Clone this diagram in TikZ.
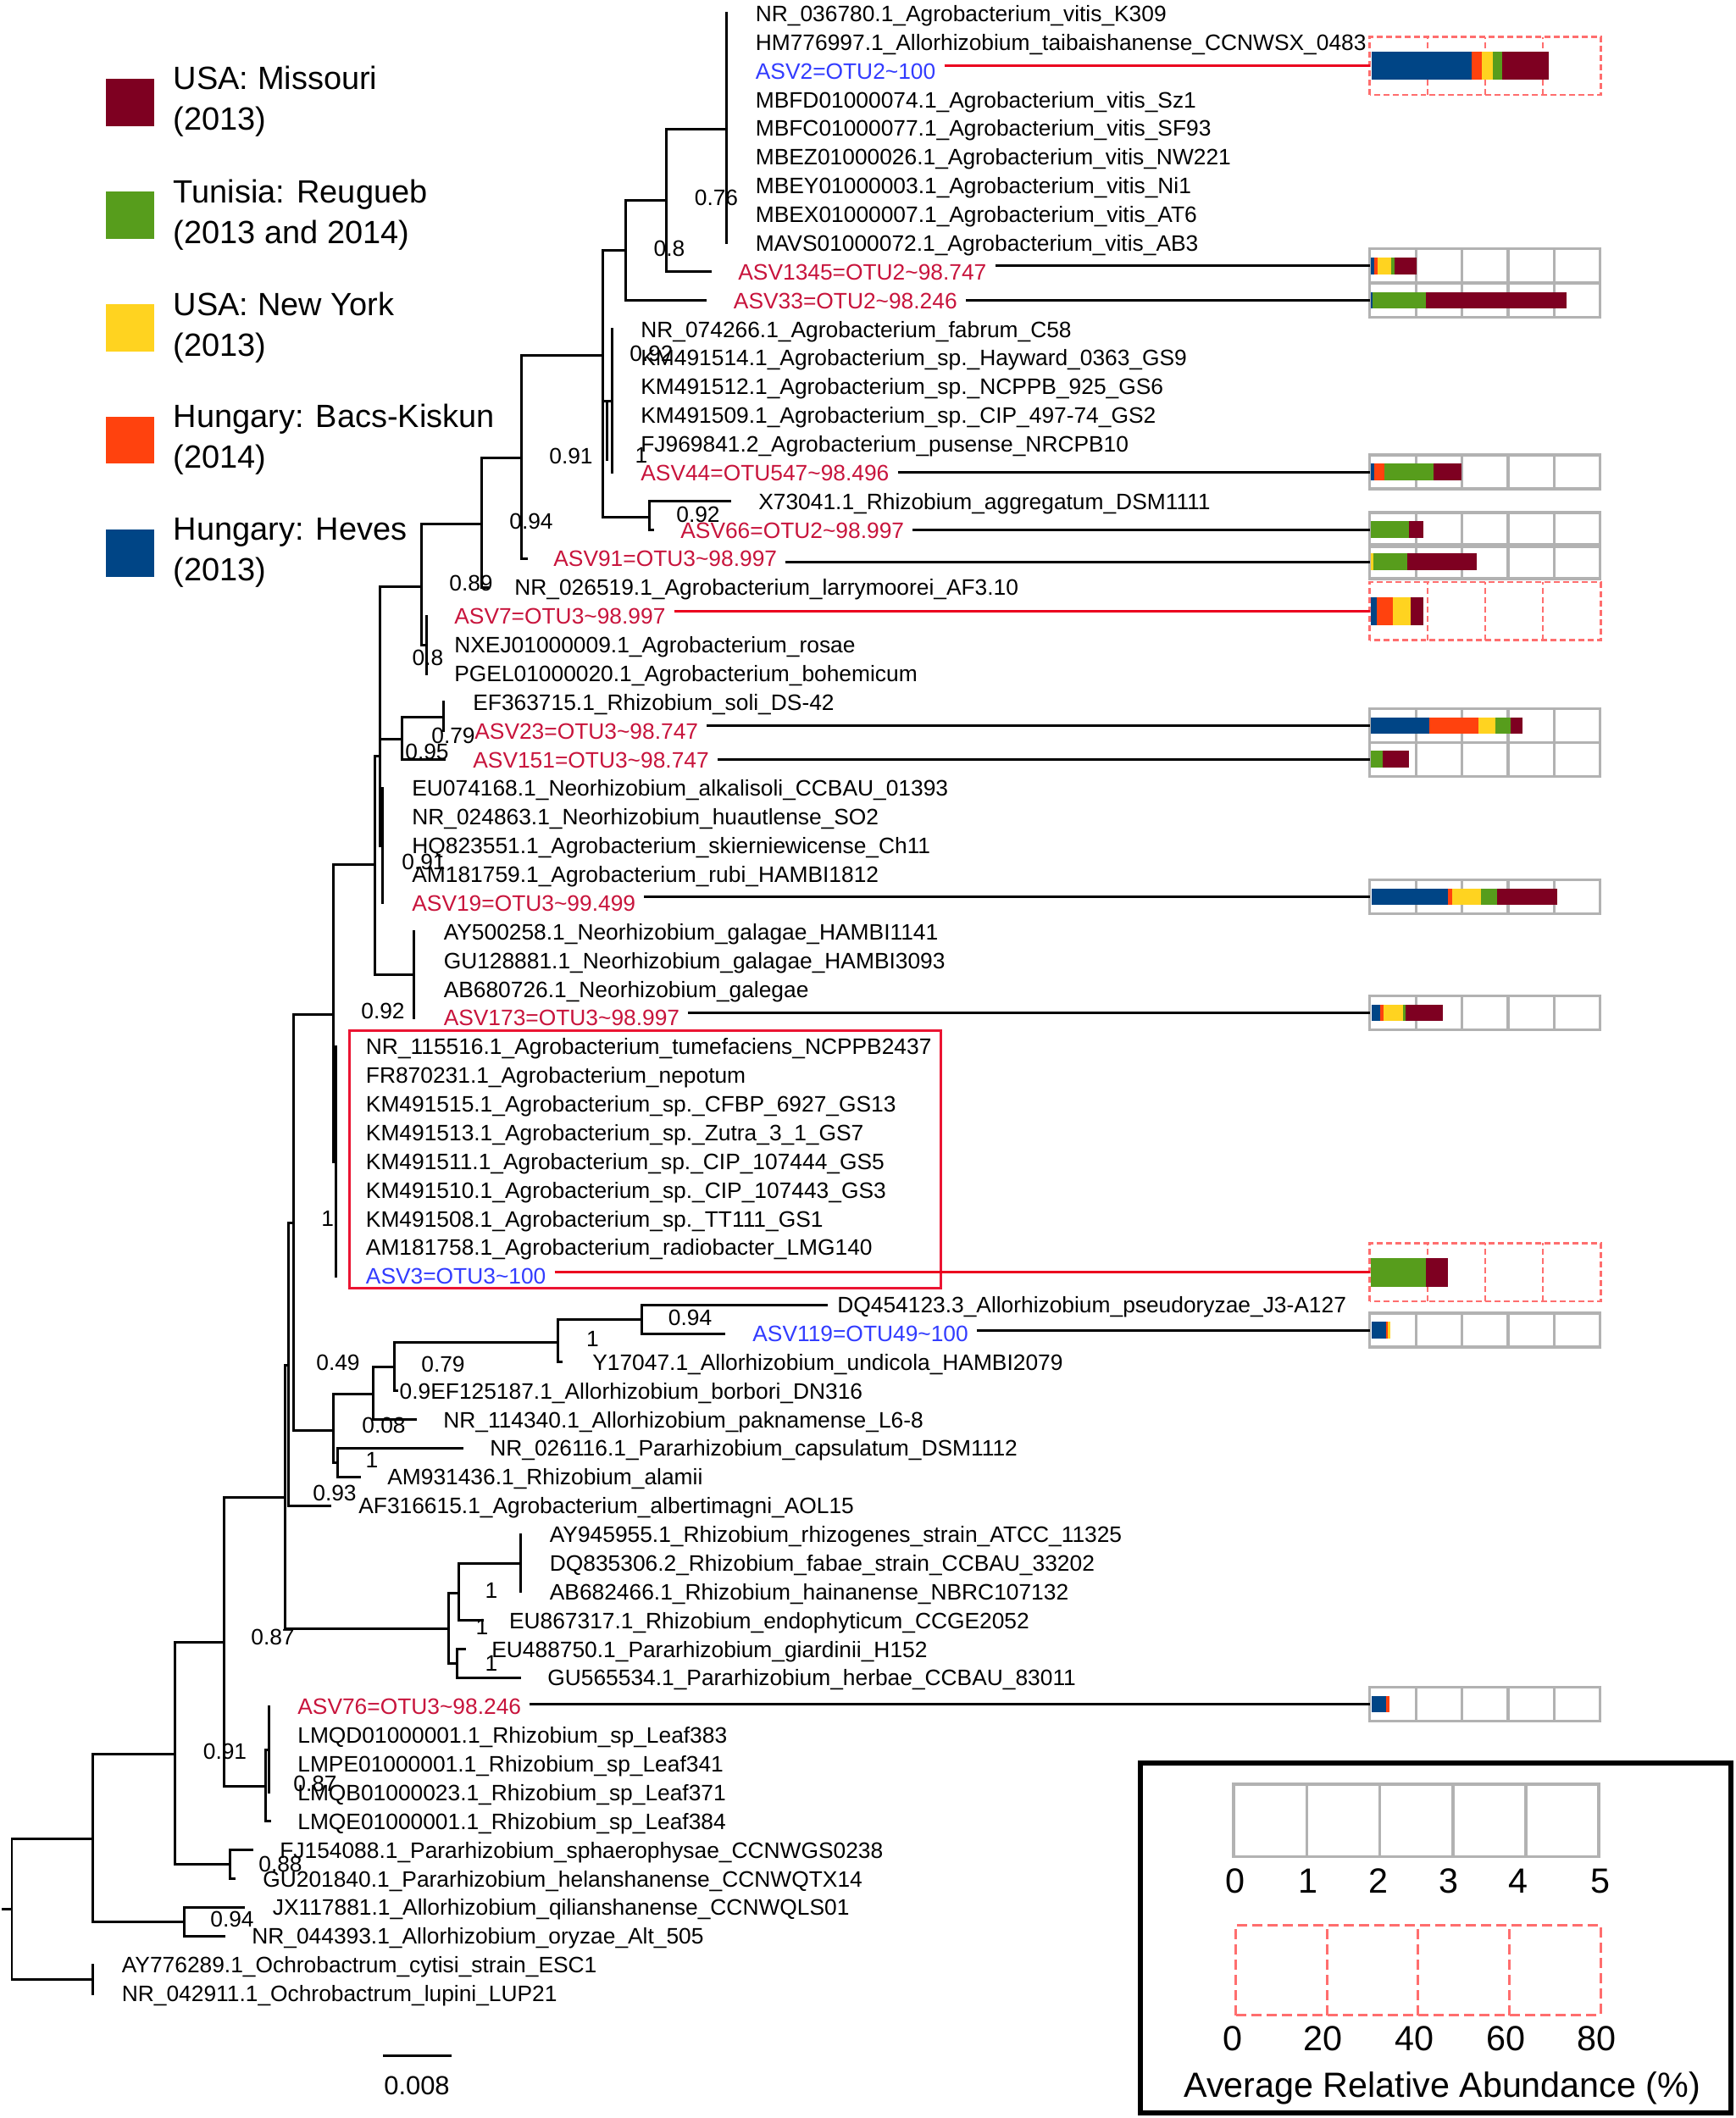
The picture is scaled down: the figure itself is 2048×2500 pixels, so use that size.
\documentclass[tikz,border=0pt]{standalone}
\usepackage{fontspec}
\setmainfont{Liberation Sans}
\usetikzlibrary{calc}
\definecolor{mis}{RGB}{126,0,33}
\definecolor{tun}{RGB}{87,157,28}
\definecolor{nyk}{RGB}{255,211,32}
\definecolor{bac}{RGB}{255,66,14}
\definecolor{hev}{RGB}{0,69,134}
\definecolor{asvred}{RGB}{200,20,60}
\definecolor{asvblue}{RGB}{50,60,255}
\definecolor{redline}{RGB}{235,0,30}
\definecolor{boxred}{RGB}{235,20,50}
\definecolor{dashred}{RGB}{255,110,110}
\definecolor{gline}{RGB}{178,178,178}
\newcommand\labfont{\fontsize{15pt}{18pt}\selectfont}
\newcommand\legfont{\fontsize{21.6pt}{26pt}\selectfont}
\newcommand\scfont{\fontsize{23.5pt}{28pt}\selectfont}
\newcommand\sbfont{\fontsize{17.6pt}{21pt}\selectfont}
\pgfmathdeclarefunction{rowy}{1}{\pgfmathparse{16+(#1-1)*33.87}}
\newcommand\leaf[5][]{\node[lab,#1] (#2) at ({#4-10},{rowy(#3)}) {#5};}
\newcommand\gbox[2]{\node[gbn] (#1) at (1752.75,#2) {};
 \draw[gl] (#1.south west) rectangle (#1.north east);
 \foreach \i in {1,2,3,4}{\draw[gl] ($(#1.south west)!\i/5!(#1.south east)$) -- ($(#1.north west)!\i/5!(#1.north east)$);}}
\newcommand\rbox[2]{\node[rbn] (#1) at (1753,#2) {};
 \draw[rl] (#1.south west) rectangle (#1.north east);
 \foreach \i in {1,2,3}{\draw[rl] ($(#1.south west)!\i/4!(#1.south east)$) -- ($(#1.north west)!\i/4!(#1.north east)$);}}
\newcommand\segm[5]{\fill[#5] (#3,{#1-#2/2}) rectangle (#4,{#1+#2/2});}
\begin{document}
\begin{tikzpicture}[x=0.02cm,y=-0.02cm,
 tr/.style={line width=0.06cm, line cap=rect},
 lab/.style={font=\labfont, anchor=west, inner xsep=0.2cm, inner ysep=0pt, text height=0.378cm, text depth=0pt},
 asvr/.style={text=asvred}, asvb/.style={text=asvblue},
 supp/.style={font=\labfont, inner sep=0pt, text height=0.378cm, text depth=0pt},
 conn/.style={line width=0.06cm},
 rconn/.style={line width=0.06cm, draw=redline},
 gbn/.style={inner sep=0pt, minimum width=5.43cm, minimum height=0.79cm},
 rbn/.style={inner sep=0pt, minimum width=5.44cm, minimum height=1.36cm},
 gl/.style={draw=gline, line width=0.065cm},
 rl/.style={draw=dashred, line width=0.05cm, dash pattern=on 0.14cm off 0.08cm},
 sq/.style={inner sep=0pt, minimum width=1.16cm, minimum height=1.12cm},
 legt/.style={font=\legfont, anchor=west, inner sep=0pt, text height=0.544cm, text depth=0pt},
 sct/.style={font=\scfont, inner sep=0pt, text height=0.593cm, text depth=0pt},
]
\fill[white] (0,0) rectangle (2048,2500);
\useasboundingbox (0,0) rectangle (2048,2500);

% ---------- legend (countries)
\node[sq,fill=mis] (k1) at (153.5,121) {};
\node[sq,fill=tun] (k2) at (153.5,254) {};
\node[sq,fill=nyk] (k3) at (153.5,387) {};
\node[sq,fill=bac] (k4) at (153.5,519.5) {};
\node[sq,fill=hev] (k5) at (153.5,653) {};
\node[legt] (t1a) at (204.6,92) {USA: Missouri};
\node[legt] (t1b) at (204.6,140) {(2013)};
\node[legt] (t2a) at (204.6,225.5) {Tunisia: Reugueb};
\node[legt] (t2b) at (204.6,273.5) {(2013 and 2014)};
\node[legt] (t3a) at (204.6,358.6) {USA: New York};
\node[legt] (t3b) at (204.6,406.6) {(2013)};
\node[legt] (t4a) at (204.6,490.7) {Hungary: Bacs-Kiskun};
\node[legt] (t4b) at (204.6,538.7) {(2014)};
\node[legt] (t5a) at (204.6,624.3) {Hungary: Heves};
\node[legt] (t5b) at (204.6,672.3) {(2013)};

% ---------- tree
\draw[tr] (3,2253) -- (14,2253);
\draw[tr] (14,2170) -- (14,2336);
\draw[tr] (14,2336) -- (109,2336);
\draw[tr] (109,{rowy(69)}) -- (109,{rowy(70)});
\draw[tr] (14,2170) -- (109,2170);
\draw[tr] (109,2070) -- (109,2268);
\draw[tr] (109,2268) -- (217,2268);
\draw[tr] (217,{rowy(67)}) -- (217,{rowy(68)});
\draw[tr] (217,{rowy(67)}) -- (287,{rowy(67)});
\draw[tr] (217,{rowy(68)}) -- (264,{rowy(68)});
\draw[tr] (109,2070) -- (206.7,2070);
\draw[tr] (206.7,1938) -- (206.7,2200.6);
\draw[tr] (206.7,2200.6) -- (271,2200.6);
\draw[tr] (271,{rowy(65)}) -- (271,{rowy(66)});
\draw[tr] (271,{rowy(65)}) -- (297,{rowy(65)});
\draw[tr] (271,{rowy(66)}) -- (276,{rowy(66)});
\draw[tr] (206.7,1938) -- (264,1938);
\draw[tr] (264,1767) -- (264,2108.5);
\draw[tr] (264,2108.5) -- (313,2108.5);
\draw[tr] (313,2065) -- (313,{rowy(64)});
\draw[tr] (313,{rowy(64)}) -- (318,{rowy(64)});
\draw[tr] (313,2065) -- (317,2065);
\draw[tr] (317,{rowy(60)}) -- (317,{rowy(63)});
\draw[tr] (264,1767) -- (336,1767);
\draw[tr] (336,1611) -- (336,1922.5);
\draw[tr] (336,1922.5) -- (529,1922.5);
\draw[tr] (529,1880) -- (529,1963.5);
\draw[tr] (529,1880) -- (541,1880);
\draw[tr] (541,1845) -- (541,{rowy(57)});
\draw[tr] (541,{rowy(57)}) -- (569,{rowy(57)});
\draw[tr] (541,1845) -- (614.8,1845);
\draw[tr] (614.8,{rowy(54)}) -- (614.8,{rowy(56)});
\draw[tr] (529,1963.5) -- (539,1963.5);
\draw[tr] (539,{rowy(58)}) -- (539,{rowy(59)});
\draw[tr] (539,{rowy(58)}) -- (548,{rowy(58)});
\draw[tr] (539,{rowy(59)}) -- (613,{rowy(59)});
\draw[tr] (336,1611) -- (340.7,1611);
\draw[tr] (340.7,1443) -- (340.7,{rowy(53)});
\draw[tr] (340.7,{rowy(53)}) -- (389,{rowy(53)});
\draw[tr] (340.7,1443) -- (346,1443);
\draw[tr] (346,1197) -- (346,1688);
\draw[tr] (346,1688) -- (393,1688);
\draw[tr] (393,1645) -- (393,1726.5);
\draw[tr] (393,1726.5) -- (398,1726.5);
\draw[tr] (398,{rowy(51)}) -- (398,{rowy(52)});
\draw[tr] (398,{rowy(51)}) -- (545,{rowy(51)});
\draw[tr] (398,{rowy(52)}) -- (424,{rowy(52)});
\draw[tr] (393,1645) -- (440.7,1645);
\draw[tr] (440.7,1613) -- (440.7,{rowy(50)});
\draw[tr] (440.7,{rowy(50)}) -- (490,{rowy(50)});
\draw[tr] (440.7,1613) -- (465,1613);
\draw[tr] (465,1584) -- (465,{rowy(49)});
\draw[tr] (465,{rowy(49)}) -- (468,{rowy(49)});
\draw[tr] (465,1584) -- (658.7,1584);
\draw[tr] (658.7,1557) -- (658.7,{rowy(48)});
\draw[tr] (658.7,{rowy(48)}) -- (662,{rowy(48)});
\draw[tr] (658.7,1557) -- (757,1557);
\draw[tr] (757,{rowy(46)}) -- (757,{rowy(47)});
\draw[tr] (757,{rowy(46)}) -- (975,{rowy(46)});
\draw[tr] (757,{rowy(47)}) -- (854,{rowy(47)});
\draw[tr] (346,1197) -- (393,1197);
\draw[tr] (393,1020) -- (393,1371);
\draw[tr] (393,1371) -- (396.7,1371);
\draw[tr] (396.7,{rowy(37)}) -- (396.7,{rowy(45)});
\draw[tr] (393,1020) -- (442,1020);
\draw[tr] (442,892) -- (442,1150.6);
\draw[tr] (442,1150.6) -- (488.5,1150.6);
\draw[tr] (488.5,{rowy(33)}) -- (488.5,{rowy(36)});
\draw[tr] (442,892) -- (448,892);
\draw[tr] (448,692) -- (448,998.2);
\draw[tr] (448,998.2) -- (451.7,998.2);
\draw[tr] (451.7,{rowy(28)}) -- (451.7,{rowy(32)});
\draw[tr] (448,872) -- (474,872);
\draw[tr] (474,846) -- (474,{rowy(27)});
\draw[tr] (474,{rowy(27)}) -- (524,{rowy(27)});
\draw[tr] (474,846) -- (523.4,846);
\draw[tr] (523.4,{rowy(25)}) -- (523.4,{rowy(26)});
\draw[tr] (448,692) -- (497,692);
\draw[tr] (497,618) -- (497,761);
\draw[tr] (497,761) -- (503,761);
\draw[tr] (503,{rowy(22)}) -- (503,{rowy(24)});
\draw[tr] (497,618) -- (568.7,618);
\draw[tr] (568.7,540) -- (568.7,{rowy(21)});
\draw[tr] (568.7,{rowy(21)}) -- (575,{rowy(21)});
\draw[tr] (568.7,540) -- (615,540);
\draw[tr] (615,420) -- (615,{rowy(20)});
\draw[tr] (615,{rowy(20)}) -- (621,{rowy(20)});
\draw[tr] (615,420) -- (711,420);
\draw[tr] (711,296) -- (711,610);
\draw[tr] (711,473) -- (722,473);
\draw[tr] (722,{rowy(12)}) -- (722,{rowy(17)});
\draw[tr] (716,475) -- (716,542);
\draw[tr] (711,610) -- (766,610);
\draw[tr] (766,{rowy(18)}) -- (766,{rowy(19)});
\draw[tr] (766,{rowy(18)}) -- (861.5,{rowy(18)});
\draw[tr] (766,{rowy(19)}) -- (770,{rowy(19)});
\draw[tr] (711,296) -- (738,296);
\draw[tr] (738,237) -- (738,{rowy(11)});
\draw[tr] (738,{rowy(11)}) -- (832,{rowy(11)});
\draw[tr] (738,237) -- (786.6,237);
\draw[tr] (786.6,153) -- (786.6,{rowy(10)});
\draw[tr] (786.6,{rowy(10)}) -- (838,{rowy(10)});
\draw[tr] (786.6,153) -- (857,153);
\draw[tr] (857,{rowy(1)}) -- (857,{rowy(9)});

% ---------- red clade box
\draw[boxred, line width=0.06cm] (412,1216) rectangle (1110,1520);

% ---------- leaf labels
\leaf{l1}{1}{891.5}{NR\_036780.1\_Agrobacterium\_vitis\_K309}
\leaf{l2}{2}{891.5}{HM776997.1\_Allorhizobium\_taibaishanense\_CCNWSX\_0483}
\leaf[asvb]{l3}{3}{891.5}{ASV2=OTU2\textasciitilde100}
\leaf{l4}{4}{891.5}{MBFD01000074.1\_Agrobacterium\_vitis\_Sz1}
\leaf{l5}{5}{891.5}{MBFC01000077.1\_Agrobacterium\_vitis\_SF93}
\leaf{l6}{6}{891.5}{MBEZ01000026.1\_Agrobacterium\_vitis\_NW221}
\leaf{l7}{7}{891.5}{MBEY01000003.1\_Agrobacterium\_vitis\_Ni1}
\leaf{l8}{8}{891.5}{MBEX01000007.1\_Agrobacterium\_vitis\_AT6}
\leaf{l9}{9}{891.5}{MAVS01000072.1\_Agrobacterium\_vitis\_AB3}
\leaf[asvr]{l10}{10}{871}{ASV1345=OTU2\textasciitilde98.747}
\leaf[asvr]{l11}{11}{865.6}{ASV33=OTU2\textasciitilde98.246}
\leaf{l12}{12}{756}{NR\_074266.1\_Agrobacterium\_fabrum\_C58}
\leaf{l13}{13}{756}{KM491514.1\_Agrobacterium\_sp.\_Hayward\_0363\_GS9}
\leaf{l14}{14}{756}{KM491512.1\_Agrobacterium\_sp.\_NCPPB\_925\_GS6}
\leaf{l15}{15}{756}{KM491509.1\_Agrobacterium\_sp.\_CIP\_497-74\_GS2}
\leaf{l16}{16}{756}{FJ969841.2\_Agrobacterium\_pusense\_NRCPB10}
\leaf[asvr]{l17}{17}{756}{ASV44=OTU547\textasciitilde98.496}
\leaf{l18}{18}{895}{X73041.1\_Rhizobium\_aggregatum\_DSM1111}
\leaf[asvr]{l19}{19}{803}{ASV66=OTU2\textasciitilde98.997}
\leaf[asvr]{l20}{20}{653}{ASV91=OTU3\textasciitilde98.997}
\leaf{l21}{21}{607}{NR\_026519.1\_Agrobacterium\_larrymoorei\_AF3.10}
\leaf[asvr]{l22}{22}{536}{ASV7=OTU3\textasciitilde98.997}
\leaf{l23}{23}{536}{NXEJ01000009.1\_Agrobacterium\_rosae}
\leaf{l24}{24}{536}{PGEL01000020.1\_Agrobacterium\_bohemicum}
\leaf{l25}{25}{558}{EF363715.1\_Rhizobium\_soli\_DS-42}
\leaf[asvr]{l26}{26}{560}{ASV23=OTU3\textasciitilde98.747}
\leaf[asvr]{l27}{27}{558}{ASV151=OTU3\textasciitilde98.747}
\leaf{l28}{28}{486}{EU074168.1\_Neorhizobium\_alkalisoli\_CCBAU\_01393}
\leaf{l29}{29}{486}{NR\_024863.1\_Neorhizobium\_huautlense\_SO2}
\leaf{l30}{30}{486}{HQ823551.1\_Agrobacterium\_skierniewicense\_Ch11}
\leaf{l31}{31}{486}{AM181759.1\_Agrobacterium\_rubi\_HAMBI1812}
\leaf[asvr]{l32}{32}{486}{ASV19=OTU3\textasciitilde99.499}
\leaf{l33}{33}{523.4}{AY500258.1\_Neorhizobium\_galagae\_HAMBI1141}
\leaf{l34}{34}{523.4}{GU128881.1\_Neorhizobium\_galagae\_HAMBI3093}
\leaf{l35}{35}{523.4}{AB680726.1\_Neorhizobium\_galegae}
\leaf[asvr]{l36}{36}{523.4}{ASV173=OTU3\textasciitilde98.997}
\leaf{l37}{37}{431.6}{NR\_115516.1\_Agrobacterium\_tumefaciens\_NCPPB2437}
\leaf{l38}{38}{431.6}{FR870231.1\_Agrobacterium\_nepotum}
\leaf{l39}{39}{431.6}{KM491515.1\_Agrobacterium\_sp.\_CFBP\_6927\_GS13}
\leaf{l40}{40}{431.6}{KM491513.1\_Agrobacterium\_sp.\_Zutra\_3\_1\_GS7}
\leaf{l41}{41}{431.6}{KM491511.1\_Agrobacterium\_sp.\_CIP\_107444\_GS5}
\leaf{l42}{42}{431.6}{KM491510.1\_Agrobacterium\_sp.\_CIP\_107443\_GS3}
\leaf{l43}{43}{431.6}{KM491508.1\_Agrobacterium\_sp.\_TT111\_GS1}
\leaf{l44}{44}{431.6}{AM181758.1\_Agrobacterium\_radiobacter\_LMG140}
\leaf[asvb]{l45}{45}{431.6}{ASV3=OTU3\textasciitilde100}
\leaf{l46}{46}{988}{DQ454123.3\_Allorhizobium\_pseudoryzae\_J3-A127}
\leaf[asvb]{l47}{47}{888}{ASV119=OTU49\textasciitilde100}
\leaf{l48}{48}{699}{Y17047.1\_Allorhizobium\_undicola\_HAMBI2079}
\leaf{l49}{49}{508}{EF125187.1\_Allorhizobium\_borbori\_DN316}
\leaf{l50}{50}{523}{NR\_114340.1\_Allorhizobium\_paknamense\_L6-8}
\leaf{l51}{51}{578}{NR\_026116.1\_Pararhizobium\_capsulatum\_DSM1112}
\leaf{l52}{52}{457}{AM931436.1\_Rhizobium\_alamii}
\leaf{l53}{53}{423}{AF316615.1\_Agrobacterium\_albertimagni\_AOL15}
\leaf{l54}{54}{648.5}{AY945955.1\_Rhizobium\_rhizogenes\_strain\_ATCC\_11325}
\leaf{l55}{55}{648.5}{DQ835306.2\_Rhizobium\_fabae\_strain\_CCBAU\_33202}
\leaf{l56}{56}{648.5}{AB682466.1\_Rhizobium\_hainanense\_NBRC107132}
\leaf{l57}{57}{600.7}{EU867317.1\_Rhizobium\_endophyticum\_CCGE2052}
\leaf{l58}{58}{580}{EU488750.1\_Pararhizobium\_giardinii\_H152}
\leaf{l59}{59}{646}{GU565534.1\_Pararhizobium\_herbae\_CCBAU\_83011}
\leaf[asvr]{l60}{60}{351}{ASV76=OTU3\textasciitilde98.246}
\leaf{l61}{61}{351}{LMQD01000001.1\_Rhizobium\_sp\_Leaf383}
\leaf{l62}{62}{351}{LMPE01000001.1\_Rhizobium\_sp\_Leaf341}
\leaf{l63}{63}{351}{LMQB01000023.1\_Rhizobium\_sp\_Leaf371}
\leaf{l64}{64}{351}{LMQE01000001.1\_Rhizobium\_sp\_Leaf384}
\leaf{l65}{65}{330}{FJ154088.1\_Pararhizobium\_sphaerophysae\_CCNWGS0238}
\leaf{l66}{66}{310}{GU201840.1\_Pararhizobium\_helanshanense\_CCNWQTX14}
\leaf{l67}{67}{321.5}{JX117881.1\_Allorhizobium\_qilianshanense\_CCNWQLS01}
\leaf{l68}{68}{297}{NR\_044393.1\_Allorhizobium\_oryzae\_Alt\_505}
\leaf{l69}{69}{143.5}{AY776289.1\_Ochrobactrum\_cytisi\_strain\_ESC1}
\leaf{l70}{70}{143.5}{NR\_042911.1\_Ochrobactrum\_lupini\_LUP21}

% ---------- support values
\node[supp] (s1) at (845.5,233) {0.76};
\node[supp] (s2) at (790,293) {0.8};
\node[supp] (s3) at (769,417) {0.92};
\node[supp] (s4) at (757,537) {1};
\node[supp] (s5) at (674,538) {0.91};
\node[supp] (s6) at (824,607) {0.92};
\node[supp] (s7) at (627,615) {0.94};
\node[supp] (s8) at (556,688) {0.89};
\node[supp] (s9) at (505,776) {0.8};
\node[supp] (s10) at (535,868) {0.79};
\node[supp] (s11) at (504,887) {0.95};
\node[supp] (s12) at (500,1017) {0.91};
\node[supp] (s13) at (452,1193) {0.92};
\node[supp] (s14) at (386.7,1438) {1};
\node[supp] (s15) at (814.6,1555) {0.94};
\node[supp] (s16) at (699.5,1580) {1};
\node[supp] (s17) at (523,1610) {0.79};
\node[supp] (s18) at (399,1607.6) {0.49};
\node[supp] (s19) at (490,1642) {0.9};
\node[supp] (s20) at (453,1682.5) {0.08};
\node[supp] (s21) at (439,1723) {1};
\node[supp] (s22) at (395,1761.6) {0.93};
\node[supp] (s23) at (580,1876.7) {1};
\node[supp] (s24) at (569,1920) {1};
\node[supp] (s25) at (580,1963) {1};
\node[supp] (s26) at (322,1932) {0.87};
\node[supp] (s27) at (265.5,2067) {0.91};
\node[supp] (s28) at (372,2105) {0.87};
\node[supp] (s29) at (331,2200) {0.88};
\node[supp] (s30) at (274,2265) {0.94};

% ---------- abundance boxes
\rbox{b3}{77.9}
\gbox{b10}{313.7}
\gbox{b11}{354.5}
\gbox{b17}{557}
\gbox{b19}{625}
\gbox{b20}{663}
\rbox{b22}{721.4}
\gbox{b26}{856.6}
\gbox{b27}{896.3}
\gbox{b32}{1058.5}
\gbox{b36}{1195.5}
\rbox{b45}{1501.7}
\gbox{b47}{1570}
\gbox{b60}{2011.6}

% ---------- bars
\segm{77.9}{33}{1619.3}{1737.3}{hev}\segm{77.9}{33}{1737.3}{1749.3}{bac}\segm{77.9}{33}{1749.3}{1761.7}{nyk}\segm{77.9}{33}{1761.7}{1773.3}{tun}\segm{77.9}{33}{1773.3}{1828.3}{mis}
\segm{313.7}{19.7}{1618.3}{1621.7}{hev}\segm{313.7}{19.7}{1621.7}{1625.7}{bac}\segm{313.7}{19.7}{1625.7}{1641.7}{nyk}\segm{313.7}{19.7}{1641.7}{1645.7}{tun}\segm{313.7}{19.7}{1645.7}{1672.3}{mis}
\segm{354.5}{19.7}{1618.3}{1620}{hev}\segm{354.5}{19.7}{1620}{1682.7}{tun}\segm{354.5}{19.7}{1682.7}{1849}{mis}
\segm{557}{19.7}{1618.3}{1621.7}{hev}\segm{557}{19.7}{1621.7}{1634.3}{bac}\segm{557}{19.7}{1634.3}{1692.3}{tun}\segm{557}{19.7}{1692.3}{1725}{mis}
\segm{625}{19.7}{1618.3}{1663.3}{tun}\segm{625}{19.7}{1663.3}{1680}{mis}
\segm{663}{19.7}{1618.3}{1620.7}{nyk}\segm{663}{19.7}{1620.7}{1661}{tun}\segm{663}{19.7}{1661}{1742.7}{mis}
\segm{721.4}{33}{1618.3}{1624.7}{hev}\segm{721.4}{33}{1624.7}{1644.3}{bac}\segm{721.4}{33}{1644.3}{1664.7}{nyk}\segm{721.4}{33}{1664.7}{1680.3}{mis}
\segm{856.6}{19.7}{1618.3}{1687.3}{hev}\segm{856.6}{19.7}{1687.3}{1745}{bac}\segm{856.6}{19.7}{1745}{1765}{nyk}\segm{856.6}{19.7}{1765}{1783.3}{tun}\segm{856.6}{19.7}{1783.3}{1796.7}{mis}
\segm{896.3}{19.7}{1618.3}{1632.3}{tun}\segm{896.3}{19.7}{1632.3}{1663.3}{mis}
\segm{1058.5}{19.7}{1619}{1709}{hev}\segm{1058.5}{19.7}{1709}{1714}{bac}\segm{1058.5}{19.7}{1714}{1748.3}{nyk}\segm{1058.5}{19.7}{1748.3}{1767.3}{tun}\segm{1058.5}{19.7}{1767.3}{1838.3}{mis}
\segm{1195.5}{19.7}{1619}{1629}{hev}\segm{1195.5}{19.7}{1629}{1633.3}{bac}\segm{1195.5}{19.7}{1633.3}{1656}{nyk}\segm{1195.5}{19.7}{1656}{1659.3}{tun}\segm{1195.5}{19.7}{1659.3}{1702.7}{mis}
\segm{1501.7}{33.7}{1617.8}{1683.2}{tun}\segm{1501.7}{33.7}{1683.2}{1709.3}{mis}
\segm{1570}{19.7}{1618.8}{1636}{hev}\segm{1570}{19.7}{1636}{1638}{bac}\segm{1570}{19.7}{1638}{1640.5}{nyk}
\segm{2011.6}{19.7}{1618.8}{1636}{hev}\segm{2011.6}{19.7}{1636}{1640}{bac}

% ---------- connectors label -> bar
\draw[rconn] (l3.east |- b3.west) -- (b3.west);
\draw[conn] (l10.east |- b10.west) -- (b10.west);
\draw[conn] (l11.east |- b11.west) -- (b11.west);
\draw[conn] (l17.east |- b17.west) -- (b17.west);
\draw[conn] (l19.east |- b19.west) -- (b19.west);
\draw[conn] (l20.east |- b20.west) -- (b20.west);
\draw[rconn] (l22.east |- b22.west) -- (b22.west);
\draw[conn] (l26.east |- b26.west) -- (b26.west);
\draw[conn] (l27.east |- b27.west) -- (b27.west);
\draw[conn] (l32.east |- b32.west) -- (b32.west);
\draw[conn] (l36.east |- b36.west) -- (b36.west);
\draw[rconn] (l45.east |- b45.west) -- (b45.west);
\draw[conn] (l47.east |- b47.west) -- (b47.west);
\draw[conn] (l60.east |- b60.west) -- (b60.west);

% ---------- scale bar
\draw[tr] (453.5,2426.7) -- (531,2426.7);
\node[font=\sbfont, inner sep=0pt, text height=0.444cm, text depth=0pt] (sbl) at (492,2461.5) {0.008};

% ---------- abundance legend box
\draw[line width=0.12cm] (1345.5,2080.5) rectangle (2043,2493.5);
\node[inner sep=0pt, minimum width=8.608cm, minimum height=1.7cm] (gs) at (1671.7,2148.85) {};
\draw[draw=gline, line width=0.07cm] (gs.south west) rectangle (gs.north east);
\foreach \i in {1,2,3,4}{\draw[draw=gline, line width=0.07cm] ($(gs.south west)!\i/5!(gs.south east)$) -- ($(gs.north west)!\i/5!(gs.north east)$);}
\node[inner sep=0pt, minimum width=8.596cm, minimum height=2.114cm] (rs) at (1673.9,2325.55) {};
\draw[draw=dashred, line width=0.06cm, dash pattern=on 0.24cm off 0.12cm] (rs.south west) rectangle (rs.north east);
\foreach \i in {1,2,3}{\draw[draw=dashred, line width=0.06cm, dash pattern=on 0.24cm off 0.12cm] ($(rs.south west)!\i/4!(rs.south east)$) -- ($(rs.north west)!\i/4!(rs.north east)$);}
\node[sct] (g0) at (1458,2220) {0};
\node[sct] (g1) at (1543.7,2220) {1};
\node[sct] (g2) at (1627,2220) {2};
\node[sct] (g3) at (1710,2220) {3};
\node[sct] (g4) at (1792,2220) {4};
\node[sct] (g5) at (1889,2220) {5};
\node[sct] (r0) at (1455,2405.7) {0};
\node[sct] (r20) at (1561.4,2405.7) {20};
\node[sct] (r40) at (1669,2405.7) {40};
\node[sct] (r60) at (1777,2405.7) {60};
\node[sct] (r80) at (1884.5,2405.7) {80};
\node[sct] (avg) at (1702.3,2461) {Average Relative Abundance (\%)};
\end{tikzpicture}
\end{document}
